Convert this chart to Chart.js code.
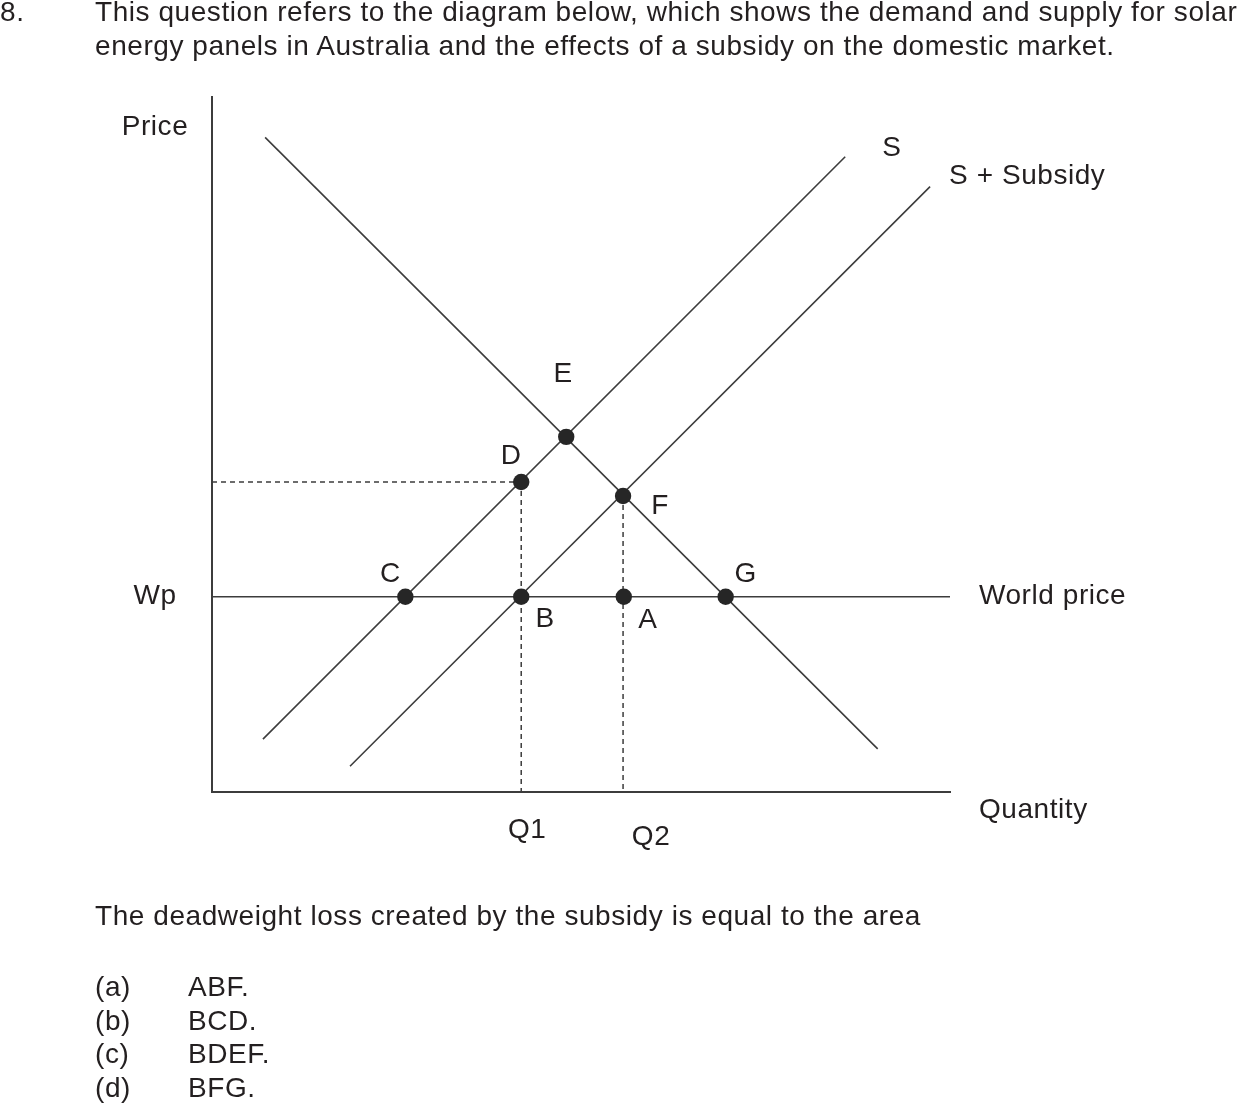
<!DOCTYPE html>
<html>
<head>
<meta charset="utf-8">
<script src="https://cdn.jsdelivr.net/npm/chart.js"></script>
<style>
  html, body { margin: 0; padding: 0; background: #fff; }
  #wrap { position: relative; width: 1239px; height: 1109px; overflow: hidden; }
  #chart { position: absolute; left: 0; top: 0; }
  .txt {
    position: absolute; white-space: nowrap;
    font-family: "Liberation Sans", Arial, sans-serif;
    font-size: 28px; line-height: 34px; color: #231f20;
    letter-spacing: 0.56px;
  }
</style>
</head>
<body>
<div id="wrap">
  <canvas id="chart" width="1239" height="1109"></canvas>
  <div class="txt" style="left:0;top:-5px">8.</div>
  <div class="txt" style="left:95px;top:-5px">This question refers to the diagram below, which shows the demand and supply for solar</div>
  <div class="txt" style="left:95px;top:29px">energy panels in Australia and the effects of a subsidy on the domestic market.</div>
  <div class="txt" style="left:95px;top:899px">The deadweight loss created by the subsidy is equal to the area</div>
  <div id="options"></div>
</div>
<script>
// axis ranges (arbitrary units)
const quantityRange = [0, 100];
const priceRange = [0, 100];

// curves: [quantity, price] end points
const demandLine = [[7.2, 94.2], [90.2, 6.2]];
const supplyLine = [[6.9, 7.6], [85.8, 91.4]];
const subsidySupplyLine = [[18.7, 3.7], [97.3, 87.1]];

const worldPrice = 28.1;
const q1 = 41.9;
const q2 = 55.7;
const priceAtD = 44.6;
const priceAtF = 42.6;

// marked points
const pointNames = ['E', 'D', 'F', 'C', 'B', 'A', 'G'];
const pointQty = [48.0, 41.9, 55.7, 26.2, 41.9, 55.8, 69.6];
const pointPrice = [51.1, 44.6, 42.6, 28.1, 28.1, 28.1, 28.1];
// label offsets in px from each point
const labelOffsets = {E: [-3, -63], D: [-10, -26], F: [37, 10], C: [-15, -22], B: [24, 23], A: [24, 24], G: [20, -22]};

// answer options
const optionKeys = ['(a)', '(b)', '(c)', '(d)'];
const optionAnswers = ['ABF.', 'BCD.', 'BDEF.', 'BFG.'];

const ink = '#231f20';
const lineCol = '#3c3c3c';
const font = '28px "Liberation Sans", Arial, sans-serif';

const opts = document.getElementById('options');
optionKeys.forEach((k, i) => {
  const top = 970 + i * 33.7;
  opts.insertAdjacentHTML('beforeend',
    `<div class="txt" style="left:95px;top:${top}px">${k}</div>` +
    `<div class="txt" style="left:188px;top:${top}px">${optionAnswers[i]}</div>`);
});

const toPts = arr => arr.map(p => ({x: p[0], y: p[1]}));

function lineSet(data, dashed) {
  return {
    data: data,
    showLine: true,
    borderColor: lineCol,
    borderWidth: dashed ? 1.5 : 1.6,
    borderDash: dashed ? [5, 4] : [],
    pointRadius: 0,
    fill: false,
    clip: false,
    order: 1
  };
}

// labels drawn next to points and axes
const labelPlugin = {
  id: 'labels',
  afterDatasetsDraw(chart) {
    const {ctx, scales: {x, y}, chartArea} = chart;
    ctx.save();
    ctx.font = font;
    ctx.letterSpacing = '0.56px';
    ctx.fillStyle = ink;
    ctx.textBaseline = 'middle';
    ctx.textAlign = 'center';
    pointNames.forEach((n, i) => {
      const o = labelOffsets[n];
      ctx.fillText(n, x.getPixelForValue(pointQty[i]) + o[0], y.getPixelForValue(pointPrice[i]) + o[1]);
    });
    ctx.fillText('Price', chartArea.left - 57, chartArea.top + 30);
    ctx.fillText('Wp', chartArea.left - 57, y.getPixelForValue(worldPrice));
    ctx.fillText('Q1', x.getPixelForValue(q1) + 6, chartArea.bottom + 38);
    ctx.fillText('Q2', x.getPixelForValue(q2) + 28, chartArea.bottom + 45);
    ctx.textAlign = 'left';
    ctx.fillText('World price', chartArea.right + 29, y.getPixelForValue(worldPrice));
    ctx.fillText('Quantity', chartArea.right + 29, chartArea.bottom + 18);
    ctx.fillText('S', x.getPixelForValue(supplyLine[1][0]) + 37, y.getPixelForValue(supplyLine[1][1]) - 8);
    ctx.fillText('S + Subsidy', x.getPixelForValue(subsidySupplyLine[1][0]) + 19, y.getPixelForValue(subsidySupplyLine[1][1]) - 10);
    ctx.restore();
  }
};

new Chart(document.getElementById('chart'), {
  type: 'scatter',
  data: {
    datasets: [
      lineSet(toPts(demandLine)),
      lineSet(toPts(supplyLine)),
      lineSet(toPts(subsidySupplyLine)),
      lineSet([{x: quantityRange[0], y: worldPrice}, {x: quantityRange[1], y: worldPrice}]),
      lineSet([{x: quantityRange[0], y: priceAtD}, {x: q1, y: priceAtD}], true),
      lineSet([{x: q1, y: priceAtD}, {x: q1, y: priceRange[0]}], true),
      lineSet([{x: q2, y: priceAtF}, {x: q2, y: priceRange[0]}], true),
      {
        data: pointQty.map((q, i) => ({x: q, y: pointPrice[i]})),
        showLine: false,
        pointRadius: 8.2,
        pointBackgroundColor: '#262626',
        pointBorderColor: '#262626',
        pointBorderWidth: 0,
        clip: false,
        order: 0
      }
    ]
  },
  options: {
    responsive: false,
    animation: false,
    events: [],
    layout: {padding: {left: 212, top: 97, right: 289, bottom: 317}},
    plugins: {legend: {display: false}, tooltip: {enabled: false}},
    scales: {
      x: {
        type: 'linear', min: quantityRange[0], max: quantityRange[1],
        grid: {display: false},
        border: {display: true, color: lineCol, width: 2},
        ticks: {display: false},
        afterFit: s => { s.height = 0; }
      },
      y: {
        type: 'linear', min: priceRange[0], max: priceRange[1],
        grid: {display: false},
        border: {display: true, color: lineCol, width: 2},
        ticks: {display: false},
        afterFit: s => { s.width = 0; }
      }
    }
  },
  plugins: [labelPlugin]
});
</script>
</body>
</html>
